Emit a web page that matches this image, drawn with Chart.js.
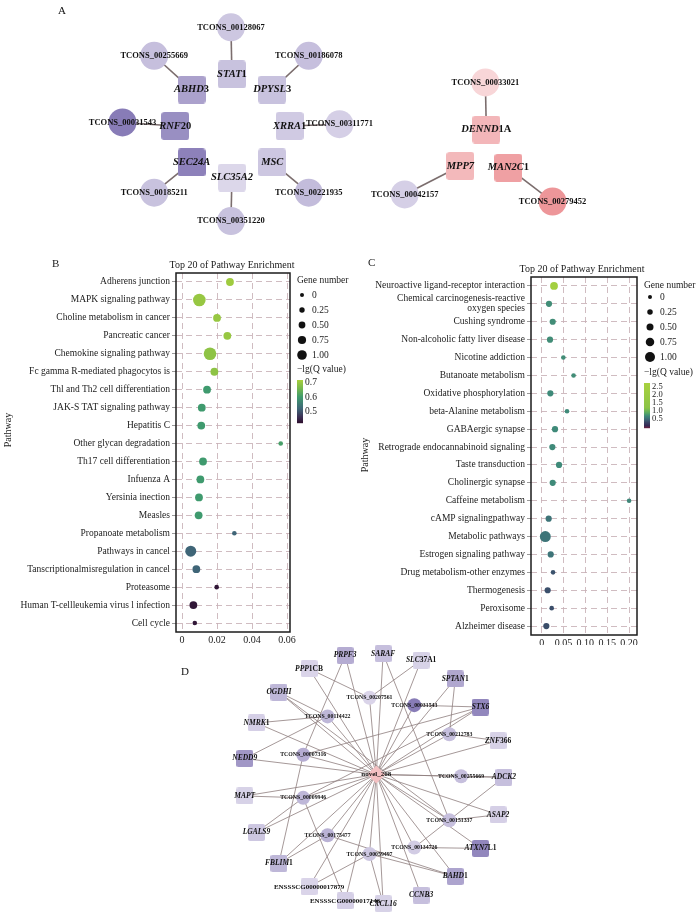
<!DOCTYPE html>
<html>
<head>
<meta charset="utf-8">
<script src="https://cdn.jsdelivr.net/npm/chart.js@4.4.1/dist/chart.umd.min.js"></script>
<style>
  html, body { margin: 0; padding: 0; background: #fff; }
  body { width: 700px; height: 922px; position: relative; overflow: hidden; }
  canvas { position: absolute; }
</style>
</head>
<body>
<canvas id="netA" width="700" height="252" style="left:0;top:0"></canvas>
<canvas id="dotB" width="360" height="405" style="left:0;top:240px"></canvas>
<canvas id="dotC" width="370" height="395" style="left:330px;top:250px"></canvas>
<canvas id="netD" width="700" height="282" style="left:0;top:640px"></canvas>
<script>
const SERIF = '"Liberation Serif", "Times New Roman", serif'

// ---------- panel A : lncRNA - mRNA pairs ----------
const nodesA = ['TCONS_00128067', 'STAT1', 'TCONS_00255669', 'ABHD3', 'TCONS_00186078', 'DPYSL3',
  'TCONS_00031543', 'RNF20', 'XRRA1', 'TCONS_00311771', 'SEC24A', 'SLC35A2', 'MSC',
  'TCONS_00185211', 'TCONS_00221935', 'TCONS_00351220',
  'TCONS_00033021', 'DENND1A', 'MPP7', 'MAN2C1', 'TCONS_00042157', 'TCONS_00279452']
const layoutXA = [226, 227, 146, 185, 307, 269, 113, 168, 287, 339, 185, 227, 269, 146, 307, 226, 491, 492, 465, 515, 407, 561]
const layoutYA = [15, 68, 47, 85, 47, 85, 122, 126, 126, 124, 167, 184, 167, 201, 201, 233, 77, 130, 171, 173, 203, 211]
const foldA = [-1.2, -1.4, -1.5, -2.6, -1.5, -1.4, -4.0, -3.3, -1.1, -0.9, -3.8, -0.6, -1.2, -1.4, -1.6, -1.4,
  0.5, 1.8, 1.7, 2.7, -0.9, 3.1]
const edgesA = [
  ['TCONS_00128067', 'STAT1'], ['TCONS_00255669', 'ABHD3'], ['TCONS_00186078', 'DPYSL3'],
  ['TCONS_00031543', 'RNF20'], ['TCONS_00311771', 'XRRA1'], ['TCONS_00185211', 'SEC24A'],
  ['TCONS_00351220', 'SLC35A2'], ['TCONS_00221935', 'MSC'], ['TCONS_00033021', 'DENND1A'],
  ['TCONS_00042157', 'MPP7'], ['TCONS_00279452', 'MAN2C1']
]

// ---------- panel B : KEGG enrichment ----------
const pathwaysB = ['Adherens junction', 'MAPK signaling pathway', 'Choline metabolism in cancer', 'Pancreatic cancer',
  'Chemokine signaling pathway', 'Fc gamma R-mediated phagocytos is', 'Thl and Th2 cell differentiation',
  'JAK-S TAT signaling pathway', 'Hepatitis C', 'Other glycan degradation', 'Th17 cell differentiation',
  'Infuenza A', 'Yersinia inection', 'Measles', 'Propanoate metabolism', 'Pathways in cancel',
  'Tanscriptionalmisregulation in cancel', 'Proteasome', 'Human T-cellleukemia virus l infection', 'Cell cycle']
const richB  = [0.0274, 0.0099, 0.0200, 0.0259, 0.0160, 0.0185, 0.0143, 0.0113, 0.0110, 0.0564,
  0.0120, 0.0105, 0.0097, 0.0095, 0.0299, 0.0050, 0.0082, 0.0198, 0.0065, 0.0073]
const genesB = [3, 6, 3, 3, 6, 3, 3, 3, 3, 1, 3, 3, 3, 3, 1, 5, 3, 1, 3, 1]
const lgqB   = [0.71, 0.70, 0.70, 0.70, 0.69, 0.69, 0.60, 0.60, 0.60, 0.61,
  0.60, 0.60, 0.60, 0.60, 0.52, 0.52, 0.52, 0.43, 0.43, 0.43]
const ticksB      = [0, 0.02, 0.04, 0.06]
const tickLabelsB = ['0', '0.02', '0.04', '0.06']
const cbarTicksB  = [0.7, 0.6, 0.5]

// ---------- panel C : KEGG enrichment ----------
const pathwaysC = ['Neuroactive ligand-receptor interaction', ['Chemical carcinogenesis-reactive', 'oxygen species'],
  'Cushing syndrome', 'Non-alcoholic fatty liver disease', 'Nicotine addiction', 'Butanoate metabolism',
  'Oxidative phosphorylation', 'beta-Alanine metabolism', 'GABAergic synapse', 'Retrograde endocannabinoid signaling',
  'Taste transduction', 'Cholinergic synapse', 'Caffeine metabolism', 'cAMP signalingpathway', 'Metabolic pathways',
  'Estrogen signaling pathway', 'Drug metabolism-other enzymes', 'Thermogenesis', 'Peroxisome', 'Alzheimer disease']
const richC  = [0.0282, 0.0167, 0.0252, 0.0190, 0.0496, 0.0730, 0.0198, 0.0580, 0.0305, 0.0244,
  0.0397, 0.0252, 0.2002, 0.0160, 0.0083, 0.0206, 0.0260, 0.0137, 0.0229, 0.0106]
const genesC = [3, 2, 2, 2, 1, 1, 2, 1, 2, 2, 2, 2, 1, 2, 5, 2, 1, 2, 1, 2]
const lgqC   = [2.5, 0.72, 0.72, 0.72, 0.72, 0.72, 0.70, 0.70, 0.70, 0.70,
  0.70, 0.70, 0.68, 0.56, 0.56, 0.56, 0.38, 0.36, 0.35, 0.35]
const ticksC      = [0, 0.05, 0.10, 0.15, 0.20]
const tickLabelsC = ['0', '0.05', '0.10', '0.15', '0.20']
const cbarTicksC  = [2.5, 2.0, 1.5, 1.0, 0.5]

const sizeLegendVals   = [0, 0.25, 0.5, 0.75, 1]
const sizeLegendLabels = ['0', '0.25', '0.50', '0.75', '1.00']

// ---------- panel D : ceRNA network around novel_268 ----------
const nodesD = ['novel_268',
  'PRPF3', 'SARAF', 'SLC37A1', 'PPP1CB', 'SPTAN1', 'OGDHI', 'STX6', 'NMRK1', 'ZNF366', 'NEDD9', 'ADCK2',
  'MAPT', 'ASAP2', 'LGALS9', 'ATXN7L1', 'FBLIM1', 'BAHD1', 'ENSSSCG00000017879', 'ENSSSCG00000017146', 'CCNB3', 'CXCL16',
  'TCONS_00207561', 'TCONS_00031543', 'TCONS_00114422', 'TCONS_00212783', 'TCONS_00007316', 'TCONS_00255669',
  'TCONS_00009946', 'TCONS_00151337', 'TCONS_00175477', 'TCONS_00134726', 'TCONS_00059497']
const layoutXD = [377,
  345, 384, 423, 308, 458, 277, 484, 254, 502, 242, 508, 242, 502, 254, 484, 277, 458, 308, 345, 423, 384,
  370, 416, 327, 452, 302, 464, 302, 452, 327, 416, 370]
const layoutYD = [774,
  647, 645, 652, 661, 672, 686, 702, 719, 738, 757, 777, 797, 817, 836, 853, 869, 883, 894, 909, 903, 912,
  692, 700, 712, 731, 753, 776, 799, 823, 839, 852, 859]
const foldD = [1.4,
  -2.2, -1.5, -0.8, -0.7, -2.4, -1.8, -3.6, -0.9, -0.8, -3.0, -1.5, -0.8, -0.9, -1.2, -3.6, -1.8, -2.5, -0.7, -0.9, -1.5, -0.8,
  -0.7, -4.0, -1.8, -1.5, -2.2, -1.5, -1.8, -1.5, -2.0, -1.0, -1.2]
const targetsD = ['PRPF3', 'SARAF', 'SLC37A1', 'PPP1CB', 'SPTAN1', 'OGDHI', 'STX6', 'NMRK1', 'ZNF366', 'NEDD9',
  'ADCK2', 'MAPT', 'ASAP2', 'LGALS9', 'ATXN7L1', 'FBLIM1', 'BAHD1', 'ENSSSCG00000017879', 'ENSSSCG00000017146',
  'CCNB3', 'CXCL16', 'TCONS_00207561', 'TCONS_00031543', 'TCONS_00114422', 'TCONS_00212783', 'TCONS_00007316',
  'TCONS_00255669', 'TCONS_00009946', 'TCONS_00151337', 'TCONS_00175477', 'TCONS_00134726', 'TCONS_00059497']
const lncEdgesD = [
  ['TCONS_00207561', 'PPP1CB'], ['TCONS_00207561', 'SLC37A1'],
  ['TCONS_00031543', 'STX6'],
  ['TCONS_00114422', 'NMRK1'], ['TCONS_00114422', 'OGDHI'], ['TCONS_00114422', 'NEDD9'],
  ['TCONS_00212783', 'ZNF366'], ['TCONS_00212783', 'SPTAN1'],
  ['TCONS_00007316', 'STX6'], ['TCONS_00007316', 'FBLIM1'], ['TCONS_00007316', 'PRPF3'],
  ['TCONS_00255669', 'ADCK2'],
  ['TCONS_00009946', 'MAPT'], ['TCONS_00009946', 'LGALS9'], ['TCONS_00009946', 'ENSSSCG00000017146'], ['TCONS_00009946', 'STX6'],
  ['TCONS_00151337', 'ASAP2'], ['TCONS_00151337', 'SARAF'], ['TCONS_00151337', 'OGDHI'],
  ['TCONS_00175477', 'BAHD1'], ['TCONS_00175477', 'FBLIM1'],
  ['TCONS_00134726', 'ATXN7L1'], ['TCONS_00134726', 'ADCK2'],
  ['TCONS_00059497', 'BAHD1'], ['TCONS_00059497', 'ENSSSCG00000017879'], ['TCONS_00059497', 'CXCL16']
]

// gene symbols: how many trailing characters are set upright
const uprightTail = { STAT1: 1, ABHD3: 1, DPYSL3: 1, RNF20: 2, XRRA1: 1, DENND1A: 2, MAN2C1: 1,
  SLC37A1: 4, PPP1CB: 3, SPTAN1: 1, NMRK1: 1, ZNF366: 3, ATXN7L1: 2, FBLIM1: 1, BAHD1: 1 }

// ---------- helpers ----------
function rgb(h) { const n = parseInt(h.slice(1), 16); return [n >> 16 & 255, n >> 8 & 255, n & 255] }
function mix(a, b, t) {
  const A = rgb(a), B = rgb(b)
  return 'rgb(' + A.map((v, i) => Math.round(v + (B[i] - v) * t)).join(',') + ')'
}
function ramp(stops, v) {
  if (v <= stops[0][0]) return mix(stops[0][1], stops[0][1], 0)
  for (let i = 1; i < stops.length; i++) {
    if (v <= stops[i][0]) {
      const t = (v - stops[i - 1][0]) / (stops[i][0] - stops[i - 1][0])
      return mix(stops[i - 1][1], stops[i][1], t)
    }
  }
  const last = stops[stops.length - 1][1]
  return mix(last, last, 0)
}
function nodeColor(fc) {
  if (fc >= 0) return mix('#fae2e4', '#ed9497', Math.min(1, fc / 3.2))
  return mix('#ebe7f3', '#887cb7', Math.min(1, -fc / 4))
}
const stopsB = [[0.42, '#2e0f2e'], [0.46, '#3b2d52'], [0.52, '#3f6577'], [0.60, '#3f9a6e'], [0.66, '#74b74e'], [0.72, '#a8cf3c']]
const stopsC = [[-0.05, '#6a2040'], [0.1, '#352a55'], [0.3, '#3a4466'], [0.5, '#3e6a77'], [0.7, '#3f8a79'],
  [0.9, '#5aab62'], [1.2, '#8cc447'], [2.75, '#a8d13f']]
const dotRadius = n => 1.5 + 0.8 * n

function roundedSquare(side, color) {
  const c = document.createElement('canvas')
  c.width = side; c.height = side
  const g = c.getContext('2d'), r = Math.max(2, side * 0.12), s = side
  g.fillStyle = color
  g.beginPath()
  g.moveTo(r, 0); g.lineTo(s - r, 0); g.quadraticCurveTo(s, 0, s, r)
  g.lineTo(s, s - r); g.quadraticCurveTo(s, s, s - r, s)
  g.lineTo(r, s); g.quadraticCurveTo(0, s, 0, s - r)
  g.lineTo(0, r); g.quadraticCurveTo(0, 0, r, 0)
  g.fill()
  return c
}

function drawName(ctx, name, x, y, size) {
  const plain = name.startsWith('TCONS') || name.startsWith('novel') || name.startsWith('ENSSSCG')
  ctx.textBaseline = 'middle'
  if (plain) {
    ctx.font = `bold ${size}px ${SERIF}`
    ctx.textAlign = 'center'
    ctx.fillText(name, x, y)
    return
  }
  const k = uprightTail[name] || 0
  const a = name.slice(0, name.length - k), b = name.slice(name.length - k)
  ctx.font = `italic bold ${size}px ${SERIF}`
  const wa = ctx.measureText(a).width
  ctx.font = `bold ${size}px ${SERIF}`
  const wb = ctx.measureText(b).width
  const x0 = x - (wa + wb) / 2
  ctx.textAlign = 'left'
  ctx.font = `italic bold ${size}px ${SERIF}`
  ctx.fillText(a, x0, y)
  ctx.font = `bold ${size}px ${SERIF}`
  ctx.fillText(b, x0 + wa, y)
}

function buildNetwork(id, o) {
  const idx = {}
  o.nodes.forEach((n, i) => { idx[n] = i })
  const pt = n => ({ x: o.xs[idx[n]], y: o.ys[idx[n]] })
  const colors = o.fold.map(nodeColor)
  const styles = o.nodes.map((n, i) => {
    if (n.startsWith('TCONS')) return 'circle'
    if (n.startsWith('novel')) return 'rectRot'
    return roundedSquare(o.square, colors[i])
  })
  const radii = o.nodes.map(n => n.startsWith('TCONS') ? o.circle : n.startsWith('novel') ? o.diamond : o.square / 2)

  const edgeSets = o.edges.map(([a, b]) => ({
    type: 'line', data: [pt(a), pt(b)], borderColor: o.edgeColor, borderWidth: o.edgeWidth,
    pointRadius: 0, pointHoverRadius: 0, fill: false, tension: 0, order: 1, clip: false
  }))

  const labels = {
    id: 'nodeLabels',
    afterDatasetsDraw(chart) {
      const ctx = chart.ctx
      ctx.save()
      ctx.fillStyle = '#111'
      if (o.letter) {
        ctx.font = `11px ${SERIF}`; ctx.textAlign = 'left'; ctx.textBaseline = 'middle'
        ctx.fillText(o.letter[0], o.letter[1], o.letter[2])
      }
      chart.getDatasetMeta(0).data.forEach((p, i) => {
        const n = o.nodes[i]
        const size = n.startsWith('TCONS') ? o.lncFont : n.startsWith('novel') ? o.mirFont
          : n.startsWith('ENSSSCG') ? o.ensFont : o.geneFont
        drawName(ctx, n, p.x, p.y, size)
      })
      ctx.restore()
    }
  }

  new Chart(document.getElementById(id), {
    type: 'scatter',
    data: {
      datasets: [{
        data: o.nodes.map((n, i) => ({ x: o.xs[i], y: o.ys[i] })),
        pointStyle: styles,
        pointRadius: radii,
        pointHoverRadius: radii,
        pointBackgroundColor: colors,
        pointBorderWidth: 0,
        order: 0,
        clip: false
      }, ...edgeSets]
    },
    options: {
      responsive: false,
      animation: false,
      events: [],
      layout: { padding: 0 },
      plugins: { legend: { display: false }, tooltip: { enabled: false } },
      scales: {
        x: { type: 'linear', display: false, min: o.xRange[0], max: o.xRange[1] },
        y: { type: 'linear', display: false, min: o.yRange[0], max: o.yRange[1], reverse: true }
      }
    },
    plugins: [labels]
  })
}

const GRID = 'rgba(200, 176, 182, 0.85)'

function buildDot(id, o) {
  const decor = {
    id: 'dotDecor',
    afterDraw(chart) {
      const ctx = chart.ctx, a = chart.chartArea
      ctx.save()
      ctx.strokeStyle = '#1b1b1b'
      ctx.lineWidth = 1.5
      ctx.strokeRect(a.left, a.top, a.right - a.left, a.bottom - a.top)

      ctx.fillStyle = '#1a1a1a'
      ctx.textBaseline = 'middle'
      ctx.textAlign = 'left'
      ctx.font = `11px ${SERIF}`
      ctx.fillText(o.letter, o.letterX, o.letterY)

      ctx.textAlign = 'center'
      ctx.font = `10px ${SERIF}`
      ctx.fillText('Top 20 of Pathway Enrichment', o.titleX, o.titleY)

      ctx.save()
      ctx.translate(o.yTitleX, o.yTitleY)
      ctx.rotate(-Math.PI / 2)
      ctx.fillText('Pathway', 0, 0)
      ctx.restore()

      // gene number legend
      const L = o.sizeLegend
      ctx.textAlign = 'left'
      ctx.font = `9.5px ${SERIF}`
      ctx.fillText('Gene number', L.x, L.y)
      sizeLegendVals.forEach((v, i) => {
        const cy = L.y0 + i * 15
        ctx.fillStyle = '#111'
        ctx.beginPath()
        ctx.arc(L.cx, cy, L.r0 + L.dr * v, 0, Math.PI * 2)
        ctx.fill()
        ctx.fillStyle = '#1a1a1a'
        ctx.fillText(sizeLegendLabels[i], L.cx + 10, cy)
      })

      // colour bar
      const C = o.cbar
      ctx.fillText('\u2212lg(Q value)', L.x, C.titleY)
      for (let yy = 0; yy < C.h; yy++) {
        const v = C.vTop - (yy + 0.5) / C.h * (C.vTop - C.vBot)
        ctx.fillStyle = ramp(o.stops, v)
        ctx.fillRect(C.x, C.top + yy, C.w, 1.2)
      }
      ctx.fillStyle = '#1a1a1a'
      ctx.font = `${C.font}px ${SERIF}`
      o.cbarTicks.forEach(v => {
        const yy = C.top + (C.vTop - v) / (C.vTop - C.vBot) * C.h
        ctx.fillText(v.toFixed(1), C.x + C.w + 2, yy)
      })
      ctx.restore()
    }
  }

  new Chart(document.getElementById(id), {
    type: 'scatter',
    data: {
      datasets: [{
        data: o.labels.map((p, i) => ({ x: o.xs[i], y: i })),
        pointRadius: o.genes.map(dotRadius),
        pointHoverRadius: o.genes.map(dotRadius),
        pointBackgroundColor: o.lgq.map(v => ramp(o.stops, v)),
        pointBorderWidth: 0,
        clip: false
      }]
    },
    options: {
      responsive: false,
      animation: false,
      events: [],
      layout: { padding: { left: 0, right: o.padRight, top: o.padTop, bottom: 0 } },
      plugins: { legend: { display: false }, tooltip: { enabled: false } },
      scales: {
        x: {
          type: 'linear', min: o.xMin, max: o.xMax,
          afterBuildTicks: s => { s.ticks = o.ticks.map(v => ({ value: v })) },
          afterFit: s => { s.height = o.xAxisH },
          ticks: { callback: (v, i) => o.tickLabels[i], font: { family: SERIF, size: 10 }, color: '#222',
            padding: 2, maxRotation: 0, autoSkip: false },
          grid: { color: GRID, drawTicks: false, lineWidth: 1 },
          border: { display: false, dash: [6, 4] }
        },
        y: {
          type: 'category', labels: o.labels, offset: true,
          afterFit: s => { s.width = o.yAxisW },
          ticks: { font: { family: SERIF, size: 9.5, lineHeight: 1.05 }, color: '#222', padding: 2, autoSkip: false },
          grid: { color: GRID, offset: false, tickLength: 4, tickColor: '#9a9a9a', tickBorderDash: [], lineWidth: 1 },
          border: { display: false, dash: [6, 4] }
        }
      }
    },
    plugins: [decor]
  })
}

// ---------- build ----------
buildNetwork('netA', {
  nodes: nodesA, xs: layoutXA, ys: layoutYA, fold: foldA, edges: edgesA,
  xRange: [0, 700], yRange: [0, 252],
  square: 28, circle: 14, diamond: 12,
  edgeColor: '#7b6d6d', edgeWidth: 1.6,
  lncFont: 8.5, geneFont: 10.5, mirFont: 8.5, ensFont: 8.5,
  letter: ['A', 58, 11]
})

buildDot('dotB', {
  labels: pathwaysB, xs: richB, genes: genesB, lgq: lgqB, stops: stopsB,
  ticks: ticksB, tickLabels: tickLabelsB, cbarTicks: cbarTicksB,
  xMin: -0.00343, xMax: 0.0617, padRight: 70, padTop: 33, xAxisH: 13, yAxisW: 176,
  letter: 'B', letterX: 52, letterY: 24, titleX: 232, titleY: 25, yTitleX: 8, yTitleY: 190,
  sizeLegend: { x: 297, y: 40, y0: 55, cx: 302, r0: 2, dr: 2.8 },
  cbar: { titleY: 129, x: 297, w: 6, top: 140, h: 43, vTop: 0.72, vBot: 0.42, font: 9.5 }
})

buildDot('dotC', {
  labels: pathwaysC, xs: richC, genes: genesC, lgq: lgqC, stops: stopsC,
  ticks: ticksC, tickLabels: tickLabelsC, cbarTicks: cbarTicksC,
  xMin: -0.0245, xMax: 0.2183, padRight: 63, padTop: 27, xAxisH: 10, yAxisW: 201,
  letter: 'C', letterX: 38, letterY: 13, titleX: 252, titleY: 19, yTitleX: 35, yTitleY: 205,
  sizeLegend: { x: 314, y: 35, y0: 47, cx: 320, r0: 2, dr: 3 },
  cbar: { titleY: 122, x: 314, w: 6, top: 133, h: 45, vTop: 2.75, vBot: -0.05, font: 8.5 }
})

buildNetwork('netD', {
  nodes: nodesD, xs: layoutXD, ys: layoutYD, fold: foldD,
  edges: targetsD.map(t => ['novel_268', t]).concat(lncEdgesD),
  xRange: [0, 700], yRange: [640, 922],
  square: 17, circle: 7, diamond: 9,
  edgeColor: '#8e7e7e', edgeWidth: 0.8,
  lncFont: 5.8, geneFont: 7.5, mirFont: 7, ensFont: 7,
  letter: ['D', 181, 32]
})
</script>
</body>
</html>
